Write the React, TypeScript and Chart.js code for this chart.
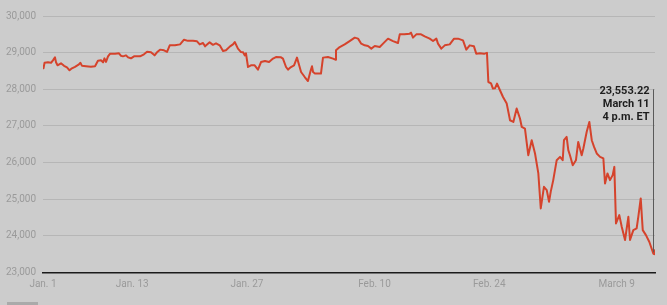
import React, { useEffect, useRef } from "react";
import { Chart, registerables } from "chart.js";

Chart.register(...registerables);

// Trading-day position (0 = open of Jan. 2, 2020; 48 = close of March 11)
const tradingDay = [
  0.0, 0.04, 0.12, 0.39, 0.63, 0.78, 0.94, 1.02, 1.14, 1.41, 1.65, 1.88, 2.08, 2.27, 2.51, 2.82, 2.94, 3.06,
  3.37, 3.76, 4.08, 4.31, 4.55, 4.71, 4.82, 4.94, 5.1, 5.25, 5.65, 5.96, 6.12, 6.27, 6.51, 6.67, 6.9, 7.14,
  7.61, 7.92, 8.16, 8.47, 8.75, 8.94, 9.18, 9.49, 9.73, 9.94, 10.35, 10.75, 11.06, 11.37, 11.76, 12.08, 12.29,
  12.55, 12.71, 13.07, 13.33, 13.57, 13.86, 14.12, 14.35, 14.67, 14.9, 15.04, 15.29, 15.53, 15.69, 15.82,
  15.92, 16.08, 16.31, 16.6, 16.86, 17.1, 17.41, 17.73, 18.04, 18.27, 18.67, 18.82, 19.06, 19.22, 19.45,
  19.69, 19.92, 20.13, 20.24, 20.53, 20.78, 21.0, 21.1, 21.18, 21.33, 21.57, 21.8, 21.96, 22.35, 22.75,
  22.93, 22.98, 23.27, 23.66, 24.05, 24.45, 24.71, 24.96, 25.23, 25.49, 25.75, 26.02, 26.41, 26.67, 27.06,
  27.45, 27.84, 27.98, 28.34, 28.76, 28.86, 29.02, 29.28, 29.65, 29.94, 30.33, 30.59, 30.85, 30.98, 31.24,
  31.51, 31.9, 32.24, 32.55, 32.94, 33.2, 33.47, 33.8, 33.98, 34.27, 34.59, 34.82, 34.93, 35.14, 35.29,
  35.45, 35.61, 35.84, 36.08, 36.37, 36.63, 36.89, 37.15, 37.41, 37.55, 37.8, 38.06, 38.33, 38.59, 38.85,
  39.04, 39.29, 39.51, 39.69, 39.82, 40.02, 40.29, 40.55, 40.76, 40.86, 41.07, 41.2, 41.33, 41.55, 41.8,
  41.98, 42.25, 42.38, 42.64, 42.85, 43.04, 43.22, 43.43, 43.69, 43.95, 44.08, 44.27, 44.47, 44.68, 44.81,
  44.94, 45.2, 45.39, 45.65, 45.91, 46.04, 46.3, 46.56, 46.69, 46.88, 47.04, 47.29, 47.55, 47.82, 48.0,
];

// Dow Jones Industrial Average, intraday
const dowValue = [
  28627, 28572, 28722, 28736, 28722, 28790, 28872, 28736, 28654, 28708, 28640, 28599, 28518, 28572, 28613,
  28681, 28722, 28640, 28627, 28613, 28627, 28777, 28790, 28736, 28845, 28749, 28899, 28967, 28967, 28981,
  28913, 28899, 28926, 28872, 28845, 28899, 28899, 28954, 29022, 29008, 28926, 29008, 29082, 29063, 29022,
  29199, 29199, 29226, 29354, 29322, 29322, 29308, 29226, 29264, 29172, 29281, 29213, 29253, 29199, 29044,
  29063, 29172, 29226, 29289, 29109, 29016, 29008, 28926, 28981, 28608, 28654, 28654, 28537, 28744, 28771,
  28744, 28837, 28880, 28872, 28837, 28608, 28537, 28608, 28654, 28864, 28608, 28471, 28335, 28226, 28518,
  28627, 28471, 28428, 28428, 28428, 28864, 28880, 28837, 28809, 29063, 29153, 29226, 29316, 29409, 29382,
  29245, 29199, 29180, 29109, 29180, 29153, 29245, 29382, 29316, 29262, 29499, 29499, 29518, 29545, 29409,
  29499, 29499, 29444, 29382, 29316, 29382, 29245, 29109, 29199, 29226, 29382, 29382, 29335, 29082, 29199,
  29172, 28973, 28981, 28967, 28995, 28199, 28163, 28019, 28027, 28155, 27973, 27790, 27610, 27155, 27109,
  27474, 27202, 26973, 26929, 26201, 26610, 26248, 25703, 24749, 25338, 25248, 24929, 25201, 25521, 26065,
  26155, 26065, 26610, 26700, 26338, 26201, 25929, 26065, 26564, 26201, 26384, 26836, 27109, 26610, 26428,
  26248, 26155, 26112, 25430, 25703, 25521, 25657, 25883, 24340, 24566, 24248, 23887, 24520, 23887, 24157,
  24204, 24520, 25022, 24157, 24021, 23839, 23566, 23553.22,
];

const yMin = 23000;
const yMax = 30000;
const yStep = 1000;

const xTickDays = [0, 7, 16, 26, 35, 45];
const xTickLabels = ["Jan. 1", "Jan. 13", "Jan. 27", "Feb. 10", "Feb. 24", "March 9"];

const noteLines = ["23,553.22", "March 11", "4 p.m. ET"];
const noteTopValue = 28000;

const LINE_COLOR = "#d5432c";
const BG = "#cccccc";
const FONT = "Roboto, 'Liberation Sans', sans-serif";

const endNotePlugin = {
  id: "endNote",
  afterDatasetsDraw(chart: any) {
    const { ctx, scales } = chart;
    const x = scales.x;
    const y = scales.y;
    const n = tradingDay.length - 1;
    const px = Math.round(x.getPixelForValue(tradingDay[n])) - 0.5;
    const py = y.getPixelForValue(dowValue[n]);
    const top = y.getPixelForValue(noteTopValue);
    ctx.save();
    ctx.strokeStyle = "#5a5a5a";
    ctx.lineWidth = 1;
    ctx.beginPath();
    ctx.moveTo(px - 1, top);
    ctx.lineTo(px - 1, py);
    ctx.stroke();
    ctx.fillStyle = "#1e1e1e";
    ctx.font = `bold 11px ${FONT}`;
    ctx.textAlign = "right";
    ctx.textBaseline = "middle";
    noteLines.forEach((t, i) => {
      ctx.fillText(t, px - 5, top + 2 + i * 13);
    });
    ctx.restore();
  },
};

export default function App() {
  const ref = useRef<HTMLCanvasElement | null>(null);

  useEffect(() => {
    document.body.style.margin = "0";
    document.body.style.background = BG;
    if (!ref.current) return;
    const last = tradingDay.length - 1;
    const chart = new Chart(ref.current, {
      type: "line",
      data: {
        datasets: [
          {
            data: tradingDay.map((d, i) => ({ x: d, y: dowValue[i] })),
            borderColor: LINE_COLOR,
            backgroundColor: LINE_COLOR,
            borderWidth: 2,
            borderJoinStyle: "round",
            tension: 0,
            pointRadius: (c: any) => (c.dataIndex === last ? 3 : 0),
            pointBorderWidth: 0,
            pointHoverRadius: 0,
          },
        ],
      },
      options: {
        animation: false,
        responsive: false,
        maintainAspectRatio: false,
        events: [],
        layout: { padding: { top: 16, right: 12, bottom: 0, left: 0 } },
        plugins: {
          legend: { display: false },
          tooltip: { enabled: false },
        },
        scales: {
          x: {
            type: "linear",
            min: 0,
            max: 48,
            afterBuildTicks: (s: any) => {
              s.ticks = xTickDays.map((v) => ({ value: v }));
            },
            afterFit: (s: any) => {
              s.height = 32.5;
            },
            grid: { display: false, drawTicks: false },
            border: { display: true, color: "#1a1a1a", width: 1.5 },
            ticks: {
              autoSkip: false,
              maxRotation: 0,
              padding: 6,
              color: "#9a9a9a",
              font: { family: FONT, size: 10 },
              callback: (v: any) => {
                const i = xTickDays.indexOf(Number(v));
                return i >= 0 ? xTickLabels[i] : "";
              },
            },
          },
          y: {
            min: yMin,
            max: yMax,
            afterFit: (s: any) => {
              s.width = 43;
            },
            grid: { color: "#b6b6b6", lineWidth: 1, drawTicks: false },
            border: { display: false },
            ticks: {
              stepSize: yStep,
              padding: 7,
              color: "#9a9a9a",
              font: { family: FONT, size: 10 },
              callback: (v: any) => Number(v).toLocaleString("en-US"),
            },
          },
        },
      },
      plugins: [endNotePlugin],
    } as any);
    return () => chart.destroy();
  }, []);

  return (
    <div
      style={{
        position: "fixed",
        left: 0,
        top: 0,
        width: 667,
        height: 305,
        background: BG,
        overflow: "hidden",
      }}
    >
      <canvas ref={ref} width={667} height={305} style={{ display: "block" }} />
      <div
        style={{
          position: "absolute",
          left: 7,
          top: 302,
          width: 31,
          height: 3,
          background: "#aaaaaa",
        }}
      />
    </div>
  );
}
